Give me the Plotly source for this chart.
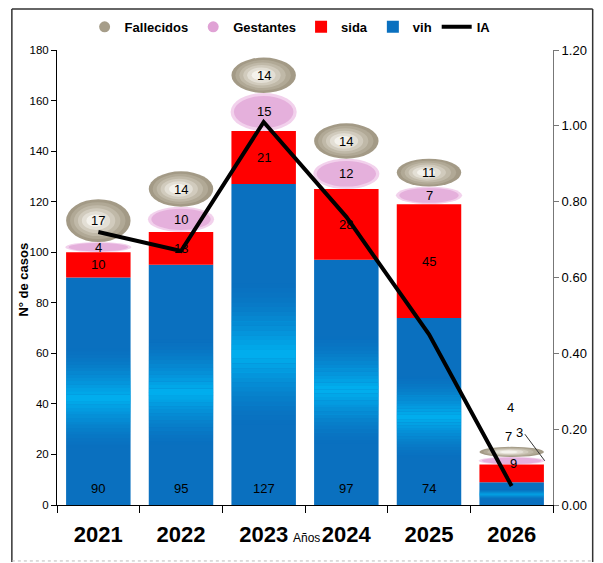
import plotly.graph_objects as go

years = ["2021", "2022", "2023", "2024", "2025", "2026"]
vih = [90, 95, 127, 97, 74, 9]
sida = [10, 13, 21, 28, 45, 7]
gestantes = [4, 10, 15, 12, 7, 3]
fallecidos = [17, 14, 14, 14, 11, 4]
ia = [0.72, 0.67, 1.01, 0.76, 0.45, 0.05]

FONT = "Liberation Sans Narrow, Liberation Sans, Arial, sans-serif"
BLUE = "#0a70bf"
RED = "#ff0000"
STONE = "#a69d89"
PINK = "#e0a2d5"
STONE_TONES = ["#a39a86", "#b1a996", "#c0b9a8", "#d1cbbd", "#e3dfd5", "#f4f2ec"]

xs = list(range(len(years)))

fig = go.Figure()

# vih base bars
fig.add_trace(go.Bar(x=xs, y=vih, base=[0] * len(vih), name="vih", width=0.78,
                     marker=dict(color=BLUE, line=dict(width=0)), legendrank=4))

# light band inside the blue bars (fake gradient, per bar height)
n = 30
half = 0.22
for k in range(n):
    t = (k + 0.5) / n * 2 - 1
    a = round(0.95 * (1 - abs(t)) ** 1.5, 3)
    lo = [v * (0.47 + half * (t - 1 / n)) for v in vih]
    h = [v * half * 2 / n * 1.02 for v in vih]
    fig.add_trace(go.Bar(x=xs, y=h, base=lo, width=0.78, showlegend=False, hoverinfo="skip",
                         marker=dict(color=f"rgba(0,180,242,{a})", line=dict(width=0))))

fig.add_trace(go.Bar(x=xs, y=sida, base=vih, name="sida", width=0.78,
                     marker=dict(color=RED, line=dict(width=0)), legendrank=3))

# legend-only entries for the picture segments
fig.add_trace(go.Scatter(x=[-5], y=[-5], mode="markers", name="Fallecidos",
                         marker=dict(symbol="circle", size=11, color=STONE), legendrank=1))
fig.add_trace(go.Scatter(x=[-5], y=[-5], mode="markers", name="Gestantes",
                         marker=dict(symbol="circle", size=11, color=PINK), legendrank=2))

fig.add_trace(go.Scatter(x=xs, y=ia, yaxis="y2", mode="lines", name="IA",
                         line=dict(color="black", width=4), legendrank=5))

shapes = []
annotations = []
for i in xs:
    g0 = vih[i] + sida[i]
    g1 = g0 + gestantes[i]
    f1 = g1 + fallecidos[i]
    hg = g1 - g0
    hf = f1 - g1
    # gestantes blob
    shapes.append(dict(type="circle", xref="x", yref="y", layer="below",
                       x0=i - 0.4, x1=i + 0.4, y0=g0, y1=g1,
                       fillcolor="#efc6e7", opacity=0.8, line=dict(width=0)))
    shapes.append(dict(type="circle", xref="x", yref="y", layer="below",
                       x0=i - 0.36, x1=i + 0.36, y0=g0 + hg * 0.08, y1=g1 - hg * 0.08,
                       fillcolor=PINK, opacity=0.7, line=dict(width=0)))
    # fallecidos stone, layered for a soft highlight
    for s, col in zip([1.0, 0.86, 0.72, 0.58, 0.44, 0.28], STONE_TONES):
        cx = i - 0.05 * (1 - s)
        cy = g1 + hf / 2
        shapes.append(dict(type="circle", xref="x", yref="y", layer="below",
                           x0=cx - 0.39 * s, x1=cx + 0.39 * s,
                           y0=cy - hf / 2 * s, y1=cy + hf / 2 * s,
                           fillcolor=col, line=dict(width=0)))

    lab = dict(xref="x", yref="y", showarrow=False,
               font=dict(family=FONT, size=13, color="black"))
    if i < len(years) - 1:
        annotations.append(dict(lab, x=i, y=6.5, text=str(vih[i])))
        annotations.append(dict(lab, x=i, y=vih[i] + sida[i] / 2, text=str(sida[i])))
        annotations.append(dict(lab, x=i, y=g0 + hg / 2, text=str(gestantes[i])))
        annotations.append(dict(lab, x=i, y=g1 + hf / 2, text=str(fallecidos[i])))
    else:
        # last year: labels pushed above the small stack, like the original
        annotations.append(dict(lab, x=i + 0.02, y=16.5, text=str(vih[i])))
        annotations.append(dict(lab, x=i - 0.04, y=27, text=str(sida[i])))
        annotations.append(dict(lab, x=i + 0.1, y=28.5, text=str(gestantes[i])))
        annotations.append(dict(lab, x=i - 0.02, y=38.5, text=str(fallecidos[i])))
        shapes.append(dict(type="line", xref="x", yref="y", x0=i + 0.16, y0=28,
                           x1=i + 0.4, y1=17.5, line=dict(color="#333", width=1)))

annotations.append(dict(xref="paper", yref="paper", x=0.504, y=-0.092, showarrow=False,
                        text="Años", font=dict(family=FONT, size=12, color="black")))
annotations.append(dict(xref="paper", yref="paper", x=-0.086, y=0.495, showarrow=False,
                        textangle=-90, text="N° de casos",
                        font=dict(family=FONT, size=13, color="black", weight="bold")))

# outer frame
shapes += [
    dict(type="line", xref="paper", yref="paper", x0=-0.091, x1=-0.091, y0=-0.125, y1=1.09,
         line=dict(color="#333", width=1.5)),
    dict(type="line", xref="paper", yref="paper", x0=-0.091, x1=1.08, y0=1.09, y1=1.09,
         line=dict(color="#333", width=1.5)),
    dict(type="line", xref="paper", yref="paper", x0=1.08, x1=1.08, y0=-0.125, y1=1.09,
         line=dict(color="#333", width=1.5)),
    dict(type="line", xref="paper", yref="paper", x0=-0.091, x1=1.08, y0=-0.123, y1=-0.123,
         line=dict(color="#bbb", width=1, dash="dot")),
]

fig.update_layout(
    width=595, height=555,
    margin=dict(l=49, r=50, t=42, b=58, autoexpand=False),
    paper_bgcolor="white", plot_bgcolor="white",
    barmode="overlay",
    font=dict(family=FONT, color="black"),
    showlegend=True,
    legend=dict(orientation="h", x=0.47, xanchor="center", yref="container", y=0.966,
                yanchor="middle", font=dict(family=FONT, size=13, weight="bold"),
                itemwidth=30, traceorder="normal"),
    xaxis=dict(range=[-0.5, len(years) - 0.5], tickmode="array", tickvals=xs, ticktext=years,
               showline=True, linecolor="black", linewidth=1, ticks="",
               minor=dict(tick0=-0.5, dtick=1, ticks="outside", ticklen=7, tickcolor="black"),
               tickfont=dict(family=FONT, size=22, weight="bold"), ticklabelstandoff=10,
               showgrid=False, zeroline=False, automargin=False),
    yaxis=dict(range=[0, 180], dtick=20, showline=True, linecolor="black", ticks="outside",
               ticklen=5, tickcolor="black", showgrid=False, zeroline=False,
               tickfont=dict(family=FONT, size=11.5), automargin=False),
    yaxis2=dict(range=[0, 1.2], dtick=0.2, tickformat=".2f", overlaying="y", side="right",
                showline=True, linecolor="#777", ticks="outside", ticklen=5, tickcolor="#777",
                showgrid=False, zeroline=False, tickfont=dict(family=FONT, size=13),
                automargin=False),
    shapes=shapes,
    annotations=annotations,
)

fig.write_html("out.html")
